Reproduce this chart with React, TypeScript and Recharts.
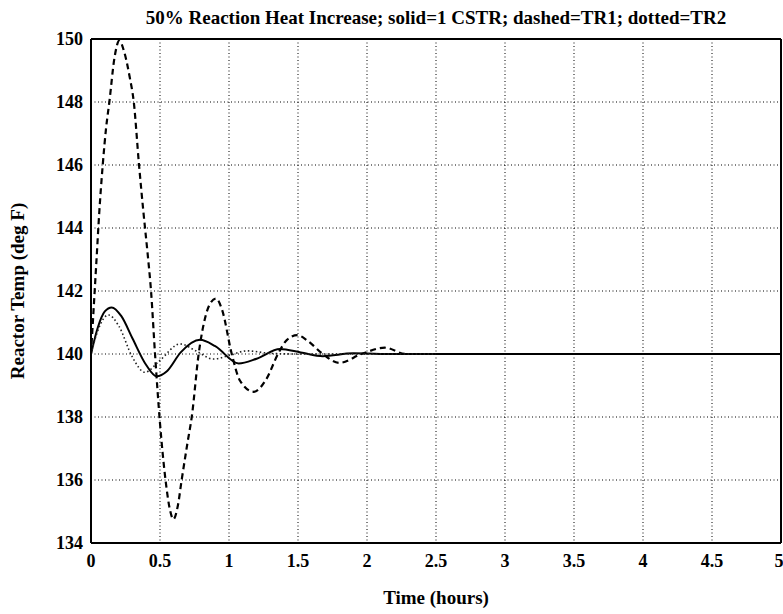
import { CartesianGrid, Line, LineChart, XAxis, YAxis } from 'recharts'

const xTicks = [0, 0.5, 1, 1.5, 2, 2.5, 3, 3.5, 4, 4.5, 5]
const yTicks = [134, 136, 138, 140, 142, 144, 146, 148, 150]

// solid = 1 CSTR
const cstr = [
  { t: 0, v: 140 },
  { t: 0.05, v: 140.85 },
  { t: 0.1, v: 141.35 },
  { t: 0.15, v: 141.48 },
  { t: 0.22, v: 141.2 },
  { t: 0.3, v: 140.5 },
  { t: 0.4, v: 139.65 },
  { t: 0.476, v: 139.29 },
  { t: 0.55, v: 139.45 },
  { t: 0.65, v: 140.05 },
  { t: 0.79, v: 140.45 },
  { t: 0.9, v: 140.25 },
  { t: 1.07, v: 139.7 },
  { t: 1.2, v: 139.85 },
  { t: 1.37, v: 140.16 },
  { t: 1.52, v: 140.05 },
  { t: 1.68, v: 139.93 },
  { t: 1.9, v: 140.02 },
  { t: 2.2, v: 140 },
  { t: 3, v: 140 },
  { t: 4, v: 140 },
  { t: 5, v: 140 }
]

// dashed = TR1
const tr1 = [
  { t: 0, v: 140 },
  { t: 0.02, v: 141.5 },
  { t: 0.04, v: 143 },
  { t: 0.06, v: 144.5 },
  { t: 0.085, v: 146 },
  { t: 0.11, v: 147.2 },
  { t: 0.133, v: 148 },
  { t: 0.17, v: 149.4 },
  { t: 0.205, v: 149.95 },
  { t: 0.24, v: 149.6 },
  { t: 0.28, v: 148.8 },
  { t: 0.31, v: 148 },
  { t: 0.348, v: 146 },
  { t: 0.38, v: 144.5 },
  { t: 0.41, v: 143.2 },
  { t: 0.435, v: 142 },
  { t: 0.464, v: 140 },
  { t: 0.5, v: 137.8 },
  { t: 0.54, v: 136 },
  { t: 0.57, v: 135.1 },
  { t: 0.597, v: 134.75 },
  { t: 0.63, v: 135.2 },
  { t: 0.657, v: 136 },
  { t: 0.7, v: 137.2 },
  { t: 0.73, v: 138 },
  { t: 0.78, v: 140 },
  { t: 0.83, v: 141.2 },
  { t: 0.87, v: 141.65 },
  { t: 0.906, v: 141.76 },
  { t: 0.95, v: 141.4 },
  { t: 1.02, v: 140 },
  { t: 1.08, v: 139.15 },
  { t: 1.18, v: 138.8 },
  { t: 1.27, v: 139.2 },
  { t: 1.355, v: 140 },
  { t: 1.42, v: 140.45 },
  { t: 1.495, v: 140.6 },
  { t: 1.57, v: 140.42 },
  { t: 1.68, v: 140 },
  { t: 1.8, v: 139.72 },
  { t: 1.96, v: 140 },
  { t: 2.13, v: 140.2 },
  { t: 2.28, v: 140 },
  { t: 2.5, v: 140 }
]

// dotted = TR2
const tr2 = [
  { t: 0, v: 140 },
  { t: 0.05, v: 140.75 },
  { t: 0.126, v: 141.24 },
  { t: 0.2, v: 140.9 },
  { t: 0.3, v: 139.9 },
  { t: 0.39, v: 139.42 },
  { t: 0.5, v: 139.8 },
  { t: 0.645, v: 140.32 },
  { t: 0.76, v: 140.1 },
  { t: 0.886, v: 139.84 },
  { t: 1.0, v: 139.95 },
  { t: 1.13, v: 140.1 },
  { t: 1.3, v: 140.02 },
  { t: 1.5, v: 140 },
  { t: 2.5, v: 140 }
]

const serif = '"Liberation Serif", "DejaVu Serif", serif'
const tickFont = { fontFamily: serif, fontSize: 18, fontWeight: 'bold' }

// own tick text so the serif font sticks
function XTick({ x, y, payload }: any) {
  return (
    <text x={x} y={y} dy={14} textAnchor="middle" fill="#000" style={tickFont}>
      {payload.value}
    </text>
  )
}

function YTick({ x, y, payload }: any) {
  return (
    <text x={x} y={y} dy={6} textAnchor="end" fill="#000" style={tickFont}>
      {payload.value}
    </text>
  )
}

export default function App() {
  return (
    <div
      style={{
        position: 'absolute',
        left: 0,
        top: 0,
        width: 783,
        height: 614,
        background: '#fff',
        fontFamily: serif
      }}
    >
      <div
        style={{
          position: 'absolute',
          left: 91,
          width: 690,
          top: 6,
          lineHeight: '24px',
          textAlign: 'center',
          fontSize: 19,
          fontWeight: 'bold',
          color: '#000',
          whiteSpace: 'nowrap'
        }}
      >
        50% Reaction Heat Increase; solid=1 CSTR; dashed=TR1; dotted=TR2
      </div>
      <LineChart width={783} height={614} margin={{ top: 38, right: 1, bottom: 4, left: 10 }}>
        <CartesianGrid stroke="#000" strokeDasharray="1 2.5" strokeWidth={1} />
        <XAxis
          dataKey="t"
          type="number"
          domain={[0, 5]}
          ticks={xTicks}
          allowDataOverflow
          tickLine={false}
          tickSize={6}
          tickMargin={4}
          axisLine={{ stroke: '#000', strokeWidth: 2 }}
          tick={<XTick />}
          height={67}
          label={{
            value: 'Time (hours)',
            position: 'insideBottom',
            offset: 6,
            fill: '#000',
            fontSize: 19,
            fontWeight: 'bold',
            fontFamily: serif
          }}
        />
        <XAxis
          xAxisId="top"
          orientation="top"
          dataKey="t"
          type="number"
          domain={[0, 5]}
          ticks={xTicks}
          tick={false}
          tickLine={false}
          axisLine={{ stroke: '#000', strokeWidth: 2 }}
          height={1}
        />
        <YAxis
          type="number"
          domain={[134, 150]}
          ticks={yTicks}
          allowDataOverflow
          tickLine={false}
          tickSize={6}
          tickMargin={2}
          axisLine={{ stroke: '#000', strokeWidth: 2 }}
          tick={<YTick />}
          width={81}
          label={{
            value: 'Reactor Temp (deg F)',
            angle: -90,
            position: 'insideLeft',
            offset: 7,
            fill: '#000',
            fontSize: 19,
            fontWeight: 'bold',
            fontFamily: serif,
            style: { textAnchor: 'middle' }
          }}
        />
        <YAxis
          yAxisId="right"
          orientation="right"
          type="number"
          domain={[134, 150]}
          ticks={yTicks}
          tick={false}
          tickLine={false}
          axisLine={{ stroke: '#000', strokeWidth: 2 }}
          width={1}
        />
        <Line
          data={cstr}
          dataKey="v"
          type="monotone"
          stroke="#000"
          strokeWidth={2}
          dot={false}
          isAnimationActive={false}
        />
        <Line
          data={tr1}
          dataKey="v"
          type="monotone"
          stroke="#000"
          strokeWidth={2.2}
          strokeDasharray="6 4"
          dot={false}
          isAnimationActive={false}
        />
        <Line
          data={tr2}
          dataKey="v"
          type="monotone"
          stroke="#222"
          strokeWidth={1.6}
          strokeDasharray="1.5 2.5"
          dot={false}
          isAnimationActive={false}
        />
      </LineChart>
    </div>
  )
}
